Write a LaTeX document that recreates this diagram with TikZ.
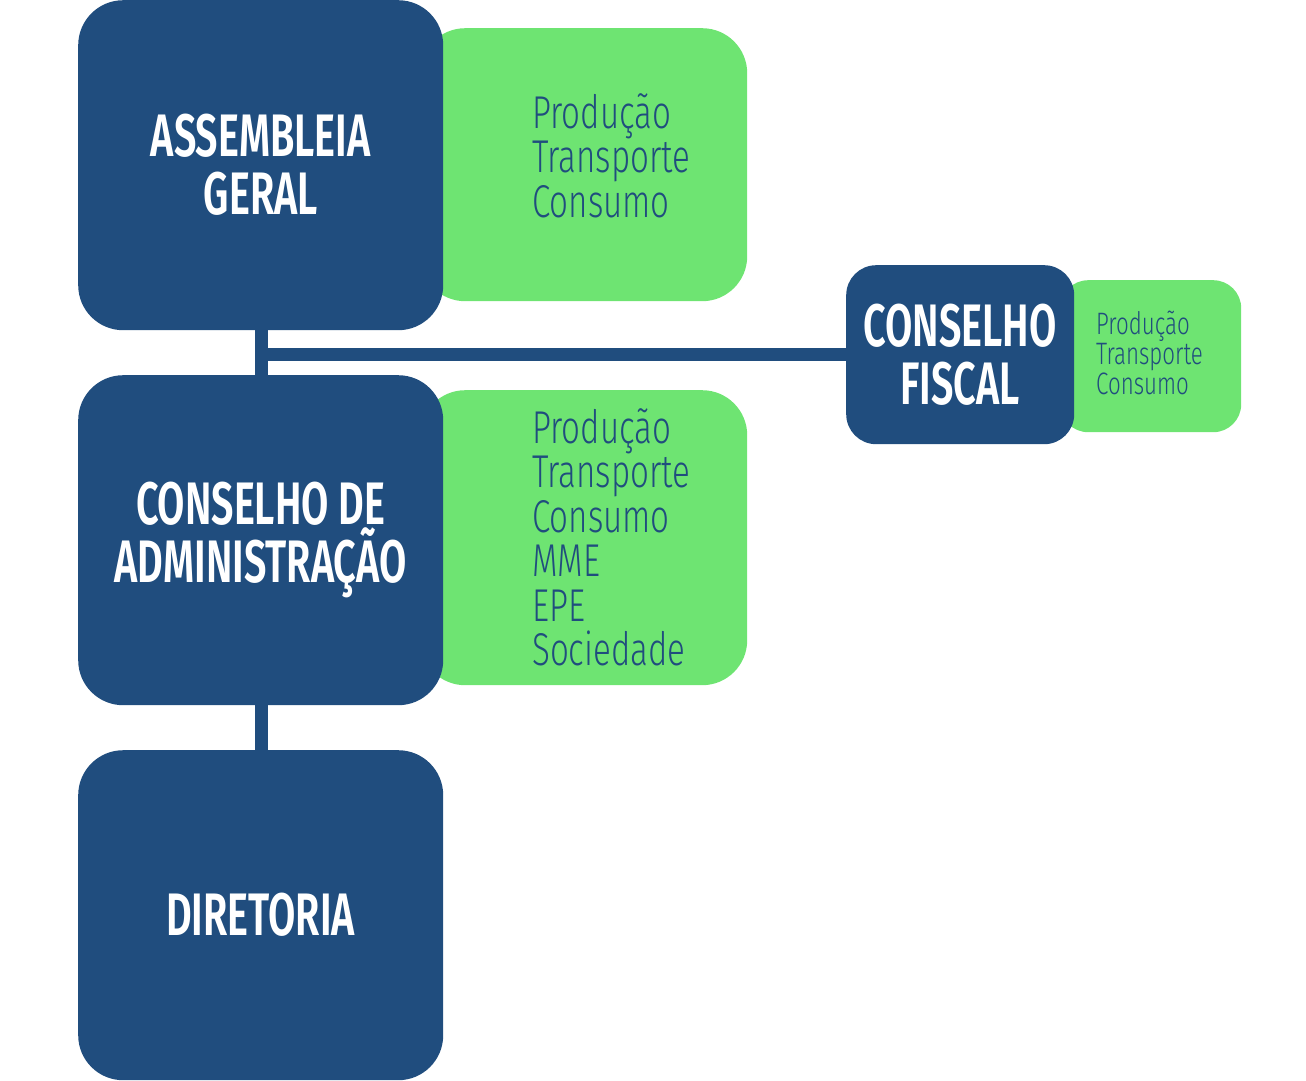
\documentclass[tikz,border=0pt]{standalone}
\usepackage{fontspec}
\setmainfont{Fira Sans}
\newfontfamily\titlefont[FakeStretch=0.66]{Fira Sans SemiBold}
\newfontfamily\listfont[FakeStretch=0.72]{Fira Sans Light}
\usetikzlibrary{positioning}
\definecolor{azul}{HTML}{204D7E}
\definecolor{verde}{HTML}{6EE472}
\tikzset{
  bloco/.style={fill=azul, rounded corners=45pt, anchor=north west, inner sep=0pt,
    minimum width=365pt, minimum height=330pt, text=white, align=center,
    font=\titlefont\fontsize{60}{58}\selectfont},
  fundo/.style={fill=verde, rounded corners=45pt, anchor=north west, inner sep=0pt},
  lista/.style={anchor=north west, text=azul, align=left, inner sep=0pt,
    font=\listfont\fontsize{46}{44.5}\selectfont},
  linha/.style={draw=azul, line width=13pt}
}
\begin{document}
\begin{tikzpicture}[x=1pt,y=-1pt]
\useasboundingbox (0,0) rectangle (1306,1080);

% fundos verdes
\node[fundo, minimum width=327pt, minimum height=273pt] (gAG) at (420,28) {};
\node[fundo, minimum width=327pt, minimum height=295pt] (gCA) at (420,390) {};
\node[fundo, rounded corners=28pt, minimum width=181pt, minimum height=152pt] (gCF) at (1060,280) {};

% blocos
\coordinate (j) at (261,354);
\node[bloco] (ag) at (78,0) {ASSEMBLEIA\\GERAL};
\node[bloco] (ca) at (78,375) {CONSELHO DE\\ADMINISTRAÇÃO};
\node[bloco] (dir) at (78,750) {DIRETORIA};
\node[bloco, rounded corners=30pt, minimum width=228pt, minimum height=179pt] (cf) at (846,265) {CONSELHO\\FISCAL};

% ligacoes
\draw[linha] (ag.south -| j) -- (ca.north -| j);
\draw[linha] (ca.south -| j) -- (dir.north -| j);
\draw[linha] (j) -- (j -| cf.west);

% listas
\node[lista] (lAG) at (532,93) {Produção\\Transporte\\Consumo};
\node[lista] (lCA) at (532,408) {Produção\\Transporte\\Consumo\\MME\\EPE\\Sociedade};
\node[lista, font=\listfont\fontsize{31}{30}\selectfont] (lCF) at (1096,311) {Produção\\Transporte\\Consumo};
\end{tikzpicture}
\end{document}
